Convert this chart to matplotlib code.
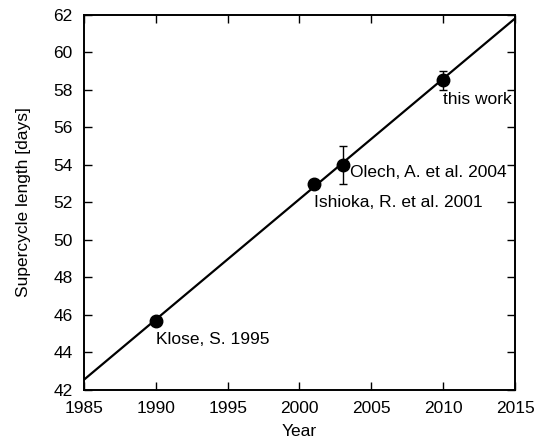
import matplotlib
matplotlib.use('Agg')
import matplotlib.pyplot as plt
import numpy as np

plt.rcParams['font.family'] = ['Liberation Sans', 'DejaVu Sans']

# measured points
years = [1990, 2001, 2003, 2010]
length = [45.7, 53.0, 54.0, 58.5]
errs = [0.0, 0.0, 1.0, 0.5]
labels = ['Klose, S. 1995', 'Ishioka, R. et al. 2001', 'Olech, A. et al. 2004', 'this work']
label_x = [1990.0, 2001.0, 2003.5, 2010.0]
label_y = [44.7, 52.0, 53.6, 57.5]

# linear fit, end values
fit_x = [1985, 2015]
fit_y = [42.55, 61.8]

fig = plt.figure(figsize=(5.39, 4.42), dpi=100)
ax = fig.add_axes([0.1558, 0.1176, 0.7997, 0.8491])

ax.plot(fit_x, fit_y, color='black', lw=1.6)
ax.errorbar(years, length, yerr=errs, fmt='o', color='black', ms=9,
            elinewidth=1.0, capsize=3, capthick=1.0)

fs = 12.5
for x, y, s in zip(label_x, label_y, labels):
    ax.text(x, y, s, ha='left', va='center', fontsize=fs)

ax.set_xlim(1985, 2015)
ax.set_ylim(42, 62)
ax.set_xticks(np.arange(1985, 2016, 5))
ax.set_yticks(np.arange(42, 63, 2))
ax.tick_params(direction='in', length=6, width=1, top=True, right=True,
               labelsize=fs)
ax.tick_params(axis='x', pad=8)
ax.tick_params(axis='y', pad=8)
for sp in ax.spines.values():
    sp.set_linewidth(1.4)

ax.set_xlabel('Year', fontsize=fs, labelpad=6)
ax.set_ylabel('Supercycle length [days]', fontsize=fs, labelpad=16)

fig.savefig('out.png', dpi=100)
